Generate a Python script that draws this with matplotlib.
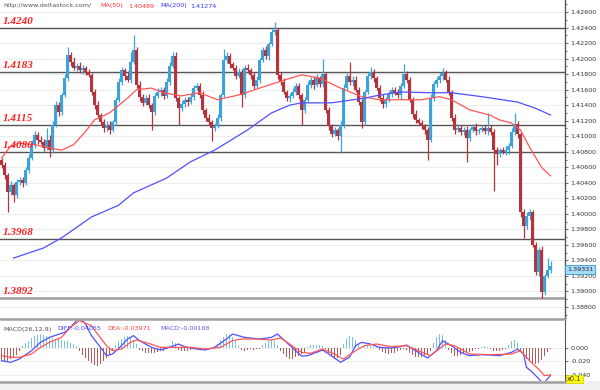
import numpy as np
import matplotlib
matplotlib.use("Agg")
import matplotlib.pyplot as plt
from matplotlib.lines import Line2D
from matplotlib.patches import Rectangle

plt.rcParams["axes.unicode_minus"] = False

# closing prices, one per candle
closes = [
    1.4063, 1.4050, 1.4028, 1.4037, 1.4024, 1.4041, 1.4044, 1.4040, 1.4057, 1.4072,
    1.4089, 1.4102, 1.4095, 1.4093, 1.4085, 1.4095, 1.4082, 1.4115, 1.4140, 1.4131,
    1.4153, 1.4175, 1.4205, 1.4196, 1.4188, 1.4191, 1.4185, 1.4188, 1.4183, 1.4179,
    1.4157, 1.4140, 1.4127, 1.4118, 1.4111, 1.4115, 1.4108, 1.4118, 1.4147, 1.4170,
    1.4185, 1.4178, 1.4173, 1.4196, 1.4211, 1.4166, 1.4151, 1.4143, 1.4149, 1.4140,
    1.4131, 1.4152, 1.4157, 1.4160, 1.4152, 1.4170, 1.4191, 1.4203, 1.4149, 1.4136,
    1.4142, 1.4147, 1.4144, 1.4151, 1.4162, 1.4165, 1.4153, 1.4134, 1.4124, 1.4118,
    1.4111, 1.4113, 1.4124, 1.4153, 1.4198, 1.4203, 1.4193, 1.4188, 1.4178, 1.4183,
    1.4153, 1.4188, 1.4185, 1.4179, 1.4165, 1.4173, 1.4198, 1.4211, 1.4203, 1.4219,
    1.4234, 1.4237, 1.4179, 1.4170, 1.4157, 1.4149, 1.4152, 1.4157, 1.4165, 1.4153,
    1.4134, 1.4147, 1.4166, 1.4173, 1.4166, 1.4175, 1.4167, 1.4180, 1.4134, 1.4113,
    1.4103, 1.4108, 1.4100, 1.4115, 1.4162, 1.4178, 1.4170, 1.4173, 1.4160, 1.4144,
    1.4118, 1.4157, 1.4178, 1.4183, 1.4175, 1.4162, 1.4149, 1.4142, 1.4147, 1.4154,
    1.4160, 1.4156, 1.4153, 1.4165, 1.4180, 1.4173, 1.4147, 1.4129, 1.4121, 1.4117,
    1.4113, 1.4108, 1.4095, 1.4149, 1.4167, 1.4173, 1.4178, 1.4182, 1.4173, 1.4157,
    1.4124, 1.4108, 1.4111, 1.4106, 1.4108, 1.4098, 1.4108, 1.4112, 1.4107, 1.4108,
    1.4111, 1.4107, 1.4111, 1.4106, 1.4082, 1.4077, 1.4082, 1.4080, 1.4082, 1.4088,
    1.4106, 1.4116, 1.4103, 1.4002, 1.3984, 1.3997, 1.4002, 1.3960, 1.3925, 1.3954,
    1.3899, 1.3920, 1.3928, 1.3933,
]
first_open = 1.4069

# wick lengths above / below the body, in pips
upper_wick = [
    3, 4, 2, 5, 3, 4, 3, 4, 3, 5,
    6, 5, 4, 5, 3, 15, 6, 4, 5, 4,
    3, 5, 10, 4, 6, 3, 5, 4, 3, 4,
    3, 4, 5, 3, 4, 4, 5, 3, 4, 5,
    4, 3, 6, 12, 19, 4, 5, 3, 4, 5,
    3, 4, 5, 3, 4, 5, 4, 5, 5, 3,
    4, 3, 4, 5, 4, 3, 4, 5, 3, 4,
    3, 4, 5, 3, 15, 5, 4, 3, 4, 5,
    3, 4, 5, 3, 4, 5, 3, 4, 5, 3,
    4, 10, 3, 4, 5, 3, 4, 5, 3, 4,
    3, 4, 5, 3, 4, 5, 3, 20, 3, 4,
    3, 4, 3, 4, 5, 4, 18, 4, 5, 3,
    4, 3, 4, 6, 4, 3, 4, 5, 3, 4,
    3, 4, 5, 3, 13, 4, 3, 4, 5, 3,
    4, 3, 4, 5, 4, 3, 4, 6, 3, 4,
    3, 4, 5, 3, 4, 5, 3, 4, 5, 3,
    4, 3, 19, 4, 3, 4, 3, 4, 5, 3,
    4, 14, 4, 3, 4, 6, 4, 3, 4, 3,
    4, 3, 15, 6,
]
lower_wick = [
    4, 5, 26, 4, 9, 3, 4, 5, 3, 4,
    3, 4, 5, 3, 4, 3, 9, 4, 3, 5,
    4, 3, 4, 5, 3, 4, 3, 5, 4, 3,
    4, 5, 3, 4, 6, 4, 5, 3, 4, 3,
    4, 5, 3, 4, 3, 4, 5, 4, 3, 4,
    23, 4, 3, 5, 4, 3, 4, 3, 4, 22,
    3, 4, 5, 3, 4, 3, 4, 5, 4, 3,
    17, 4, 3, 4, 3, 4, 5, 3, 4, 3,
    15, 4, 3, 5, 4, 3, 4, 3, 4, 5,
    3, 4, 5, 4, 3, 4, 5, 3, 4, 5,
    19, 4, 3, 4, 5, 3, 4, 3, 4, 5,
    4, 3, 5, 21, 4, 3, 4, 5, 3, 4,
    8, 4, 3, 4, 5, 3, 4, 5, 4, 3,
    4, 3, 4, 5, 3, 4, 3, 5, 4, 3,
    4, 5, 25, 3, 4, 3, 4, 5, 3, 4,
    4, 5, 3, 4, 5, 31, 4, 3, 5, 4,
    3, 4, 5, 4, 52, 14, 4, 3, 4, 5,
    3, 4, 5, 6, 15, 4, 5, 3, 4, 5,
    7, 4, 3, 4,
]

# moving averages (bar index, value)
ma50_idx = [0, 3, 6, 11, 16, 20, 24, 28, 31, 36, 42, 45, 50, 54, 60, 66, 72, 80, 86, 94,
            100, 106, 113, 120, 126, 133, 140, 146, 150, 156, 163, 166, 170, 173, 176, 180, 183]
ma50_val = [1.4072, 1.4087, 1.4091, 1.4089, 1.4085, 1.4082, 1.4089, 1.4106, 1.4121, 1.4130,
            1.4149, 1.4160, 1.4162, 1.4156, 1.4152, 1.4156, 1.4147, 1.4154, 1.4162, 1.4172,
            1.4179, 1.4175, 1.4162, 1.4151, 1.4147, 1.4147, 1.4147, 1.4151, 1.4147, 1.4134,
            1.4127, 1.4121, 1.4117, 1.4108, 1.4086, 1.4060, 1.40489]
ma200_idx = [4, 14, 20, 30, 39, 44, 55, 63, 71, 82, 90, 96, 100, 110, 121, 126, 133, 143,
             150, 160, 172, 178, 183]
ma200_val = [1.3943, 1.3956, 1.3969, 1.3996, 1.4011, 1.4027, 1.4046, 1.4067, 1.4082, 1.4108,
             1.4130, 1.4140, 1.4143, 1.4143, 1.4149, 1.4153, 1.4157, 1.4156, 1.4156, 1.4151,
             1.4144, 1.4136, 1.41274]

levels = [1.4240, 1.4183, 1.4115, 1.4080, 1.3968, 1.3892]
price_ticks = [1.388, 1.390, 1.392, 1.394, 1.396, 1.398, 1.400, 1.402, 1.404, 1.406,
               1.408, 1.410, 1.412, 1.414, 1.416, 1.418, 1.420, 1.422, 1.424, 1.426]
last_price = "1.39331"

# MACD panel, values as displayed (x0.1 scale)
macd_hist = [  # thousandths, one per candle
    -20, -21, -19, -17, -14, -10, -5, 3, 7, 11,
    15, 18, 20, 21, 20, 18, 17, 15, 14, 13,
    12, 11, 10, 8, 6, 3, -5, -10, -15, -19,
    -22, -25, -26, -24, -20, -15, -10, -5, 5, 10,
    14, 17, 18, 16, 12, 6, -3, -5, -7, -8,
    -8, -7, -6, -5, -4, -2, 5, 11, 8, -3,
    -4, -5, -4, -3, -2, -2, -1, -1, -2, -1,
    -1, 1, 6, 12, 17, 21, 20, 16, 10, 4,
    -3, -4, -3, -2, -3, -2, -1, 4, 8, 11,
    12, 10, 5, -5, -9, -13, -16, -16, -14, -12,
    -9, -6, 2, 4, 5, 4, 5, 3, -2, -8,
    -13, -16, -15, -10, 6, 13, 18, 17, 12, 6,
    2, 3, 4, 3, 2, 1, -3, -6, -8, -9,
    -8, -7, -5, -3, -2, -3, -7, -11, -14, -14,
    -13, -11, -9, -4, 8, 16, 21, 19, 12, -3,
    -8, -12, -12, -11, -9, -8, -6, -4, -2, -1,
    2, 3, 2, -2, -4, -5, -4, -3, -1, 5,
    10, 12, 8, -6, -12, -16, -20, -23, -24, -22,
    -18, -12, -6, -2,
]
diff_idx = [0, 3, 6, 10, 13, 16, 21, 23, 25, 26, 28, 30, 33, 35, 37, 40, 42, 44, 46, 50,
            53, 56, 59, 61, 65, 68, 71, 75, 77, 81, 86, 90, 92, 95, 100, 102, 105, 107, 110,
            113, 116, 118, 120, 123, 126, 130, 133, 135, 138, 142, 145, 147, 150, 153, 156,
            160, 163, 166, 170, 172, 174, 175, 177, 180, 181, 183]
diff_val = [-0.0188, -0.0212, -0.0163, -0.004, 0.0084, 0.0158, 0.0232, 0.0306, 0.0405, 0.045,
            0.0356, 0.0183, 0.001, -0.0114, -0.0089, 0.0035, 0.0133, 0.0183, 0.0109, 0.001,
            -0.003, 0.001, 0.0059, 0.002, -0.0015, -0.003, 0.001, 0.0133, 0.0207, 0.0158,
            0.0133, 0.0158, 0.0207, 0.0084, -0.012, -0.0114, -0.0064, -0.003, -0.0114, -0.0212,
            -0.0138, 0.0035, 0.0084, 0.0059, 0.001, 0.0, 0.002, 0.0044, -0.004, -0.0148,
            -0.004, 0.0109, 0.0035, -0.0064, -0.0114, -0.0099, -0.0104, -0.0114, -0.0064, -0.0015,
            -0.0089, -0.0287, -0.036, -0.0499, -0.0509, -0.0405]
dea_idx = [0, 3, 6, 10, 13, 16, 20, 23, 26, 30, 32, 35, 37, 40, 43, 45, 49, 53, 58, 63,
           68, 73, 77, 80, 85, 90, 93, 96, 100, 103, 107, 111, 114, 118, 121, 125, 130, 135,
           139, 143, 148, 151, 156, 163, 170, 173, 176, 179, 181, 183]
dea_val = [-0.0114, -0.0138, -0.0138, -0.0089, 0.001, 0.0084, 0.0158, 0.0306, 0.0405, 0.033,
           0.0207, 0.0035, -0.004, -0.0015, 0.0084, 0.0119, 0.0069, 0.001, 0.001, 0.001,
           -0.0015, 0.001, 0.0109, 0.0133, 0.0133, 0.0119, 0.0148, 0.0059, -0.0065, -0.0079,
           -0.0015, -0.0089, -0.0163, -0.004, 0.0035, 0.0059, 0.002, 0.0035, -0.004, -0.0114,
           0.0059, 0.0035, -0.0089, -0.0099, -0.0089, -0.004, -0.0188, -0.0311, -0.041, -0.0397]
macd_ticks = [0.0, -0.02, -0.04]

W, H = 600, 390
BLUE_C, RED_C = "#3ea2da", "#b3343b"

c = np.array(closes)
o = np.array([first_open] + closes[:-1])
hi = np.maximum(o, c) + np.array(upper_wick) * 0.0001
lo = np.minimum(o, c) - np.array(lower_wick) * 0.0001
x = np.arange(len(c))
cols = np.where(c >= o, BLUE_C, RED_C)
hist = np.array(macd_hist) * 0.001

fig = plt.figure(figsize=(6, 3.9), dpi=100)
xmax = (565 - 1.5) / 3

ax = fig.add_axes([0, 1 - 318 / H, 565 / W, 318 / H])
ax.set_xlim(-0.5, xmax)
ax.set_ylim(1.38658, 1.42755)
for s in ["top", "left", "bottom"]:
    ax.spines[s].set_visible(False)
ax.spines["right"].set_color("#555555")
ax.spines["right"].set_linewidth(1)
ax.set_xticks([])
ax.yaxis.tick_right()
ax.set_yticks(price_ticks)
ax.set_yticklabels([f"{t:.5f}" for t in price_ticks])
ax.set_yticks(np.arange(1.387, 1.4271, 0.002), minor=True)
ax.tick_params(axis="y", which="both", length=2.5, width=0.6, color="#555555",
               labelsize=4.6, labelcolor="#333333", pad=1.5)
ax.tick_params(axis="y", which="minor", length=1.5)
ax.grid(axis="y", which="major", color="#eeeeee", lw=0.8)
ax.set_axisbelow(True)

for lv in levels:
    if lv == levels[-1]:
        ax.axhline(lv, color="#a0a0a0", lw=1.8, zorder=1)
    else:
        ax.axhline(lv, color="#555555", lw=1.0, zorder=1)
    ax.annotate(f"{lv:.4f}", xy=(0.004, lv), xycoords=("axes fraction", "data"),
                xytext=(0, 1.2), textcoords="offset points", va="bottom", ha="left",
                color="#ff2020", fontsize=8, fontweight="bold", fontstyle="italic",
                family="Liberation Serif", zorder=5)

ax.vlines(x, lo, hi, colors=cols, lw=0.9, zorder=2)
ax.bar(x, np.maximum(np.abs(c - o), 0.00004), bottom=np.minimum(o, c), width=0.72,
       color=cols, lw=0, zorder=2)
ax.plot(ma50_idx, ma50_val, color="#ff5555", lw=0.9, zorder=3)
ax.plot(ma200_idx, ma200_val, color="#5050ff", lw=0.9, zorder=3)

# MACD panel
ax2 = fig.add_axes([0, 1 - 381 / H, 565 / W, 61 / H])
ax2.set_xlim(-0.5, xmax)
ax2.set_ylim(-0.0489, 0.0415)
for s in ["top", "left", "bottom"]:
    ax2.spines[s].set_visible(False)
ax2.spines["right"].set_color("#555555")
ax2.set_xticks([])
ax2.yaxis.tick_right()
ax2.set_yticks(macd_ticks)
ax2.set_yticklabels([f"{t:.3f}" for t in macd_ticks])
ax2.tick_params(axis="y", length=2.5, width=0.6, color="#555555", labelsize=4.6,
                labelcolor="#333333", pad=1.5)
ax2.grid(axis="y", color="#eeeeee", lw=0.8)
ax2.set_axisbelow(True)
ax2.bar(x, hist, width=0.45, color=np.where(hist >= 0, "#79c0e6", "#b5585a"), lw=0)
ax2.plot(diff_idx, diff_val, color="#5050ff", lw=0.9)
ax2.plot(dea_idx, dea_val, color="#ff5555", lw=0.9)


def ftext(px, py, s, **kw):
    fig.text(px / W, 1 - py / H, s, va="center", ha="left", **kw)


ftext(3, 6, "http://www.deltastock.com/", fontsize=4.6, color="#555555")
ftext(100, 6, "MA(50)", fontsize=4.6, color="#ff3333")
ftext(128, 6, "1.40489", fontsize=4.6, color="#ff3333")
ftext(160, 6, "MA(200)", fontsize=4.6, color="#3333ff")
ftext(190, 6, "1.41274", fontsize=4.6, color="#3333ff")

ftext(3, 329, "MACD(26,12,9)", fontsize=4.6, color="#555555")
ftext(57, 329, "DIFF:-0.04055", fontsize=4.6, color="#4444ff")
ftext(107, 329, "DEA:-0.03971", fontsize=4.6, color="#ff4444")
ftext(160, 329, "MACD:-0.00168", fontsize=4.6, color="#5b5bf0")

ftext(567, 269.5, last_price, fontsize=4.6, color="#1a2a4a",
      bbox=dict(boxstyle="square,pad=0.25", fc="#a9daf3", ec="#3399cc", lw=0.6))
ftext(567, 379, "x0.1", fontsize=4.8, color="#333333",
      bbox=dict(boxstyle="square,pad=0.2", fc="#ffff00", ec="#cccc00", lw=0.5))

# panel separators and bottom strip
fig.add_artist(Rectangle((0, 0), 1, 9 / H, transform=fig.transFigure,
                         fc="#f0f0f0", ec="none", zorder=0))
fig.add_artist(Line2D([0, 565 / W], [1 - 318.5 / H] * 2, color="#a0a0a0", lw=1.8))
fig.add_artist(Line2D([0, 565 / W], [1 - 381.5 / H] * 2, color="#a0a0a0", lw=1.8))

fig.savefig("out.png", dpi=100, facecolor="white")
